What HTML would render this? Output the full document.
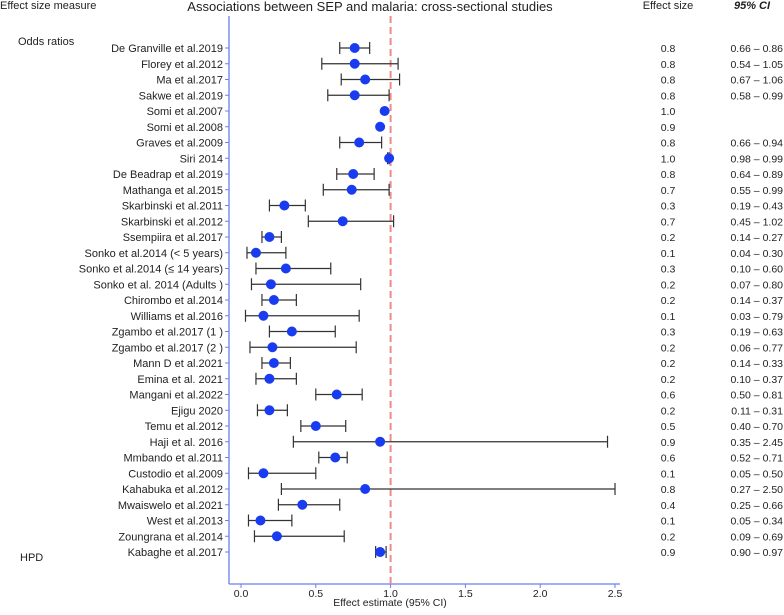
<!DOCTYPE html>
<html><head><meta charset="utf-8"><style>
body{margin:0;background:#fff;width:784px;height:610px;overflow:hidden}
svg text{font-family:"Liberation Sans",sans-serif;fill:#222}
</style></head><body>
<svg id="c" width="784" height="610">
<text x="0" y="9" font-size="11">Effect size measure</text>
<text x="370" y="11" font-size="13" text-anchor="middle">Associations between SEP and malaria: cross-sectional studies</text>
<text x="668" y="9" font-size="11" text-anchor="middle">Effect size</text>
<text x="752" y="9" font-size="11" text-anchor="middle" font-weight="bold" font-style="italic">95% CI</text>
<text x="18" y="45" font-size="11">Odds ratios</text>
<text x="20" y="561" font-size="11">HPD</text>
<line x1="229" y1="16" x2="229" y2="584" stroke="#6a7ff0" stroke-width="1.3"/>
<line x1="229" y1="584" x2="620" y2="584" stroke="#6a7ff0" stroke-width="1.3"/>
<g id="g"></g>
<text x="390" y="606" font-size="10.5" text-anchor="middle">Effect estimate (95% CI)</text>
</svg>
<script>
const studies=["De Granville et al.2019","Florey et al.2012","Ma et al.2017","Sakwe et al.2019","Somi et al.2007","Somi et al.2008","Graves et al.2009","Siri 2014","De Beadrap et al.2019","Mathanga et al.2015","Skarbinski et al.2011","Skarbinski et al.2012","Ssempiira et al.2017","Sonko et al.2014 (< 5 years)","Sonko et al.2014 (\u2264 14 years)","Sonko et al. 2014 (Adults )","Chirombo et al.2014","Williams et al.2016","Zgambo et al.2017 (1 )","Zgambo  et al.2017 (2 )","Mann D et al.2021","Emina et al. 2021","Mangani et al.2022","Ejigu 2020","Temu et al.2012","Haji et al. 2016","Mmbando et al.2011","Custodio et al.2009","Kahabuka et al.2012","Mwaiswelo et al.2021","West et al.2013","Zoungrana et al.2014","Kabaghe et al.2017"];
const estimates=[0.76,0.76,0.83,0.76,0.96,0.93,0.79,0.99,0.75,0.74,0.29,0.68,0.19,0.10,0.30,0.20,0.22,0.15,0.34,0.21,0.22,0.19,0.64,0.19,0.50,0.93,0.63,0.15,0.83,0.41,0.13,0.24,0.93];
const lower=[0.66,0.54,0.67,0.58,null,null,0.66,0.98,0.64,0.55,0.19,0.45,0.14,0.04,0.10,0.07,0.14,0.03,0.19,0.06,0.14,0.10,0.50,0.11,0.40,0.35,0.52,0.05,0.27,0.25,0.05,0.09,0.90];
const upper=[0.86,1.05,1.06,0.99,null,null,0.94,0.99,0.89,0.99,0.43,1.02,0.27,0.30,0.60,0.80,0.37,0.79,0.63,0.77,0.33,0.37,0.81,0.31,0.70,2.45,0.71,0.50,2.50,0.66,0.34,0.69,0.97];
const effectText=["0.8","0.8","0.8","0.8","1.0","0.9","0.8","1.0","0.8","0.7","0.3","0.7","0.2","0.1","0.3","0.2","0.2","0.1","0.3","0.2","0.2","0.2","0.6","0.2","0.5","0.9","0.6","0.1","0.8","0.4","0.1","0.2","0.9"];
const ciText=["0.66 \u2013 0.86","0.54 \u2013 1.05","0.67 \u2013 1.06","0.58 \u2013 0.99","","","0.66 \u2013 0.94","0.98 \u2013 0.99","0.64 \u2013 0.89","0.55 \u2013 0.99","0.19 \u2013 0.43","0.45 \u2013 1.02","0.14 \u2013 0.27","0.04 \u2013 0.30","0.10 \u2013 0.60","0.07 \u2013 0.80","0.14 \u2013 0.37","0.03 \u2013 0.79","0.19 \u2013 0.63","0.06 \u2013 0.77","0.14 \u2013 0.33","0.10 \u2013 0.37","0.50 \u2013 0.81","0.11 \u2013 0.31","0.40 \u2013 0.70","0.35 \u2013 2.45","0.52 \u2013 0.71","0.05 \u2013 0.50","0.27 \u2013 2.50","0.25 \u2013 0.66","0.05 \u2013 0.34","0.09 \u2013  0.69","0.90 \u2013 0.97"];
const ticks=[0,0.5,1.0,1.5,2.0,2.5];
const tickLabels=["0.0","0.5","1.0","1.5","2.0","2.5"];
const NS="http://www.w3.org/2000/svg";
const g=document.getElementById('g');
function xs(v){return 241+149.6*v;}
function ys(i){return 48+i*15.75;}
function mk(t,a){const e=document.createElementNS(NS,t);for(const k in a)e.setAttribute(k,a[k]);g.appendChild(e);return e;}
ticks.forEach((t,i)=>{
 const l=mk('line',{x1:xs(t),x2:xs(t),y1:584,y2:588,stroke:'#6a7ff0'});
 
 
 const tx=mk('text',{x:xs(t),y:597,'font-size':'10.5','text-anchor':'middle'});
 tx.textContent=tickLabels[i];
 
 
});
const ref=mk('line',{x1:xs(1),x2:xs(1),y1:16,y2:584,stroke:'#f08a8a','stroke-width':'2','stroke-dasharray':'7,4'});


studies.forEach((s,i)=>{
 const y=ys(i);
 const lt=mk('line',{x1:225,x2:229,y1:y,y2:y,stroke:'#6a7ff0'});
 
 
 const lab=mk('text',{x:223,y:y+4,'font-size':'11','text-anchor':'end'});
 lab.textContent=s;
 
 
 if(lower[i]!==null){
  const ci=mk('path',{d:`M${xs(lower[i])},${y}H${xs(upper[i])}M${xs(lower[i])},${y-6}V${y+6}M${xs(upper[i])},${y-6}V${y+6}`,stroke:'#333','stroke-width':'1.2',fill:'none'});
  
  
 }
 const p=mk('circle',{cx:xs(estimates[i]),cy:y,r:5,fill:'#1a3cf0'});
 
 
 const ef=mk('text',{x:668,y:y+4,'font-size':'10.5','text-anchor':'middle'});
 ef.textContent=effectText[i];
 
 
 const ct=mk('text',{x:783,y:y+4,'font-size':'10.5','text-anchor':'end'});
 ct.textContent=ciText[i];
 
 
});
</script>
</body></html>
